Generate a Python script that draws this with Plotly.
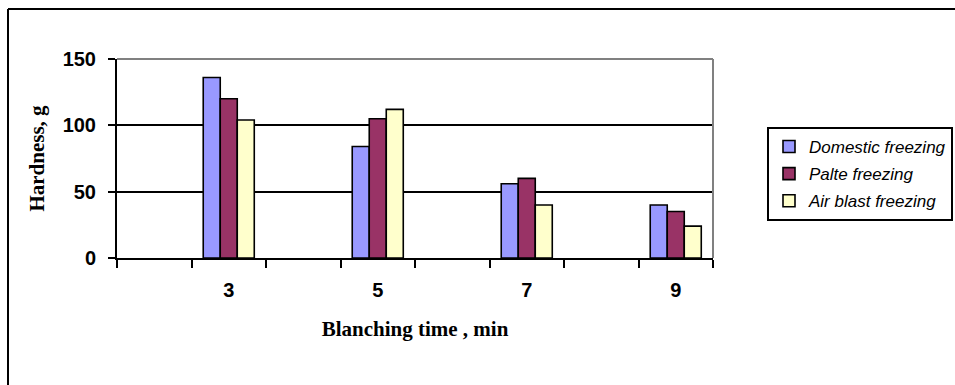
import plotly.graph_objects as go

blanching_time = [3, 5, 7, 9]
domestic = [136, 84, 56, 40]
palte = [120, 105, 60, 35]
air_blast = [104, 112, 40, 24]
series_names = ["Domestic freezing", "Palte freezing", "Air blast freezing"]
colors = ["#9999FF", "#993366", "#FFFFCC"]
y_ticks = [0, 50, 100, 150]

fig = go.Figure()
for name, vals, col in zip(series_names, [domestic, palte, air_blast], colors):
    fig.add_trace(go.Bar(
        x=blanching_time, y=vals, name=name, legendgroup=name,
        marker=dict(color=col, line=dict(color="black", width=1.6)),
    ))

W, H = 955, 385
L, R, T, B = 117, 713, 59, 258
pw, ph = R - L, B - T

def px(xp):
    return (xp - L) / pw

def py(yp):
    return (B - yp) / ph

fig.update_layout(
    width=W, height=H,
    margin=dict(l=L, r=W - R, t=T, b=H - B, autoexpand=False),
    paper_bgcolor="white", plot_bgcolor="white",
    barmode="group", bargap=0.6575, bargroupgap=0,
    showlegend=True,
    legend=dict(
        x=px(953), y=py(127), xanchor="right", yanchor="top",
        bordercolor="black", borderwidth=2, bgcolor="white",
        font=dict(family="Liberation Sans, Arial", size=17, color="black", style="italic"),
        traceorder="grouped", tracegroupgap=2,
    ),
    xaxis=dict(
        range=[1.5, 9.5],
        tickvals=blanching_time,
        ticktext=[str(t) for t in blanching_time],
        ticks="", ticklabelstandoff=13,
        showgrid=False, zeroline=False,
        showline=True, linecolor="black", linewidth=2,
        tickfont=dict(family="Liberation Sans, Arial", size=20, color="black", weight="bold"),
        minor=dict(tickvals=[1.5 + i for i in range(9)], ticks="outside", ticklen=8,
                   tickcolor="black", tickwidth=2, showgrid=False),
        title=dict(text="Blanching time , min", standoff=21,
                   font=dict(family="Liberation Serif, Times New Roman", size=21, color="black", weight="bold")),
    ),
    yaxis=dict(
        range=[0, 150],
        tickvals=y_ticks,
        ticks="outside", ticklen=7, tickcolor="black", tickwidth=2,
        ticklabelstandoff=8,
        showgrid=True, gridcolor="black", gridwidth=1.5,
        zeroline=False,
        showline=True, linecolor="black", linewidth=2,
        tickfont=dict(family="Liberation Sans, Arial", size=20, color="black", weight="bold"),
        title=dict(text="Hardness, g", standoff=12,
                   font=dict(family="Liberation Serif, Times New Roman", size=21, color="black", weight="bold")),
    ),
    shapes=[
        dict(type="line", xref="paper", yref="paper", x0=0, x1=1, y0=1, y1=1,
             line=dict(color="#808080", width=2)),
        dict(type="line", xref="paper", yref="paper", x0=1, x1=1, y0=0, y1=1,
             line=dict(color="#808080", width=2)),
        dict(type="line", xref="paper", yref="paper", x0=px(8), x1=px(8), y0=py(9), y1=py(400),
             line=dict(color="black", width=2)),
        dict(type="line", xref="paper", yref="paper", x0=px(8), x1=px(970), y0=py(9), y1=py(9),
             line=dict(color="black", width=2)),
    ],
)

fig.write_html("out.html")
